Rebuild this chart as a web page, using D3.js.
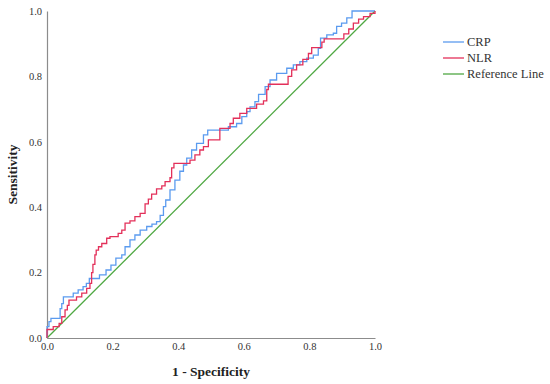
<!DOCTYPE html>
<html><head><meta charset="utf-8">
<script src="https://cdn.jsdelivr.net/npm/d3@7"></script>
<style>body{margin:0;background:#fff}svg{display:block}svg text{font-family:"Liberation Serif","DejaVu Serif",serif}</style>
</head><body>
<script>
const xTicks = [0, 0.2, 0.4, 0.6, 0.8, 1.0];
const yTicks = [0, 0.2, 0.4, 0.6, 0.8, 1.0];
const seriesNames = ["CRP", "NLR", "Reference Line"];
const crpFpr = [0,0,0.006,0.012,0.04,0.045,0.05,0.08,0.095,0.11,0.12,0.129,0.16,0.18,0.195,0.21,0.228,0.238,0.253,0.268,0.284,0.304,0.32,0.334,0.345,0.355,0.362,0.375,0.39,0.405,0.416,0.426,0.441,0.456,0.477,0.49,0.553,0.578,0.594,0.609,0.619,0.634,0.645,0.665,0.68,0.70,0.731,0.751,0.771,0.792,0.812,0.827,0.834,0.853,0.873,0.883,0.898,0.914,0.93,1];
const crpTpr = [0,0.035,0.05,0.06,0.09,0.105,0.126,0.137,0.147,0.157,0.167,0.182,0.193,0.208,0.223,0.244,0.254,0.279,0.30,0.315,0.33,0.341,0.348,0.356,0.375,0.402,0.422,0.453,0.483,0.51,0.529,0.55,0.575,0.595,0.621,0.636,0.646,0.656,0.677,0.692,0.707,0.723,0.745,0.769,0.789,0.809,0.825,0.835,0.845,0.856,0.865,0.886,0.917,0.927,0.932,0.953,0.963,0.979,1.0,1.0];
const nlrFpr = [0,0,0.019,0.037,0.045,0.055,0.062,0.067,0.09,0.106,0.121,0.131,0.136,0.14,0.146,0.15,0.157,0.167,0.182,0.192,0.217,0.228,0.238,0.253,0.268,0.284,0.299,0.309,0.319,0.334,0.35,0.36,0.375,0.38,0.387,0.436,0.451,0.466,0.477,0.492,0.527,0.558,0.568,0.588,0.609,0.639,0.66,0.67,0.675,0.735,0.746,0.761,0.78,0.797,0.807,0.838,0.845,0.905,0.92,0.934,0.95,0.965,0.985,1];
const nlrTpr = [0,0.026,0.035,0.045,0.065,0.086,0.1,0.116,0.126,0.137,0.152,0.167,0.2,0.225,0.254,0.269,0.279,0.289,0.305,0.31,0.32,0.33,0.351,0.358,0.371,0.381,0.41,0.425,0.44,0.456,0.465,0.478,0.49,0.52,0.534,0.544,0.56,0.575,0.585,0.606,0.641,0.656,0.672,0.687,0.702,0.715,0.725,0.76,0.776,0.80,0.82,0.835,0.852,0.87,0.888,0.905,0.915,0.93,0.945,0.963,0.975,0.983,0.993,1];
const refFpr = [0, 1];
const refTpr = [0, 1];
const colors = ["#5b9bef", "#e3305a", "#4fa843"];

const W = 550, H = 384;
const svg = d3.select("body").append("svg").attr("width", W).attr("height", H);
const x = d3.scaleLinear().domain([0, 1]).range([47, 375]);
const y = d3.scaleLinear().domain([0, 1]).range([338, 11]);
const font = '"Liberation Serif","DejaVu Serif",serif';

const xAxis = svg.append("g").attr("transform", `translate(0,${y(0)})`)
  .call(d3.axisBottom(x).tickValues(xTicks).tickFormat(d3.format(".1f")).tickSize(0).tickPadding(5));
const yAxis = svg.append("g").attr("transform", `translate(${x(0)},0)`)
  .call(d3.axisLeft(y).tickValues(yTicks).tickFormat(d3.format(".1f")).tickSize(0).tickPadding(5));
[xAxis, yAxis].forEach(g => {
  g.attr("font-family", null);
  g.select(".domain").attr("stroke", "#8c8c8c").attr("stroke-width", 1.2);
  g.selectAll("text").style("font-family", font).style("font-size", "10.5px").attr("fill", "#333");
});

const series = [
  {name: seriesNames[0], pts: crpFpr.map((f, i) => [f, crpTpr[i]]), curve: d3.curveStepAfter, color: colors[0]},
  {name: seriesNames[1], pts: nlrFpr.map((f, i) => [f, nlrTpr[i]]), curve: d3.curveStepAfter, color: colors[1]},
  {name: seriesNames[2], pts: refFpr.map((f, i) => [f, refTpr[i]]), curve: d3.curveLinear, color: colors[2]}
];
[series[2], series[0], series[1]].forEach(s => {
  svg.append("path").datum(s.pts)
    .attr("d", d3.line().x(d => x(d[0])).y(d => y(d[1])).curve(s.curve))
    .attr("fill", "none").attr("stroke", s.color).attr("stroke-width", 1.3);
});

const lg = svg.append("g").attr("transform", "translate(443,42)");
series.forEach((s, i) => {
  const g = lg.append("g").attr("transform", `translate(0,${i * 16})`);
  g.append("line").attr("x1", 0).attr("x2", 21).attr("y1", 0).attr("y2", 0)
    .attr("stroke", s.color).attr("stroke-width", 1.3);
  g.append("text").attr("x", 24).attr("y", 4).text(s.name)
    .style("font-family", font).style("font-size", "12.5px").attr("fill", "#333");
});

svg.append("text").attr("x", (x(0) + x(1)) / 2).attr("y", 376).attr("text-anchor", "middle")
  .style("font-family", font).style("font-size", "13.5px").style("font-weight", "bold").attr("fill", "#222")
  .text("1 - Specificity");
svg.append("text").attr("transform", `translate(17,${(y(0) + y(1)) / 2}) rotate(-90)`).attr("text-anchor", "middle")
  .style("font-family", font).style("font-size", "13.5px").style("font-weight", "bold").attr("fill", "#222")
  .text("Sensitivity");
</script>
</body></html>
